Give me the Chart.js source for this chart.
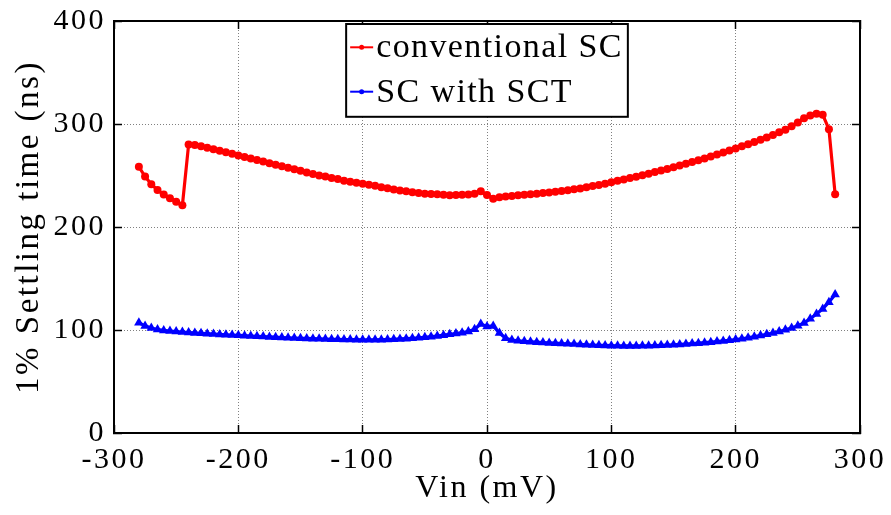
<!DOCTYPE html>
<html>
<head>
<meta charset="utf-8">
<title>1% Settling time vs Vin</title>
<script src="https://cdn.jsdelivr.net/npm/chart.js@4.4.1/dist/chart.umd.min.js"></script>
<style>
  html, body { margin: 0; padding: 0; background: #fff; }
  #wrap { width: 891px; height: 515px; }
</style>
</head>
<body>
<div id="wrap"><canvas id="settle" width="891" height="515"></canvas></div>
<script>
// input voltage sweep (mV)
const vin = [-280,-275,-270,-265,-260,-255,-250,-245,-240,-235,-230,-225,-220,-215,-210,-205,-200,
  -195,-190,-185,-180,-175,-170,-165,-160,-155,-150,-145,-140,-135,-130,-125,-120,-115,-110,-105,-100,
  -95,-90,-85,-80,-75,-70,-65,-60,-55,-50,-45,-40,-35,-30,-25,-20,-15,-10,-5,
  0,5,10,15,20,25,30,35,40,45,50,55,60,65,70,75,80,85,90,95,100,
  105,110,115,120,125,130,135,140,145,150,155,160,165,170,175,180,185,190,195,200,
  205,210,215,220,225,230,235,240,245,250,255,260,265,270,275,280];

// settling time (ns)
const conventionalSC = [258.5,249,241.5,236,231.5,228,224.5,221,
  280,279.5,278.5,277,275.5,274,272.5,271,269.5,
  268,266.5,265,263.5,262,260.5,259,257.5,256,254.5,253,251.5,250,249,247.5,246.5,245,244,243,242,
  241,240,238.5,237.6,236.5,235.5,234.6,233.7,233,232.4,232,231.7,231.2,230.8,231,231.4,231.6,232.4,234.6,
  231,227.5,229,229.5,230.2,230.8,231.4,231.8,232.3,232.9,233.6,234.3,235,235.8,236.6,237.5,238.6,239.7,240.8,242,243.5,
  244.8,246.1,247.5,248.9,250.3,251.8,253.3,254.8,256.4,258,259.6,261.3,263,264.8,266.6,268.4,270.3,272.3,274.3,276.3,
  278.3,280.4,282.6,284.8,287,289.4,291.9,294.5,297.8,301.5,305.5,308.3,310,309,295,231.7];

const scWithSCT = [107,104,102,100.5,99.6,99,98.5,98,
  97.6,97.2,96.8,96.4,96,95.7,95.4,95.1,94.8,
  94.5,94.2,93.9,93.6,93.3,93,92.7,92.5,92.2,92,91.8,91.6,91.4,91.2,91,90.9,90.8,90.7,90.6,90.5,
  90.5,90.5,90.6,90.8,91,91.3,91.6,92,92.4,92.9,93.5,94.2,95,95.9,96.6,97.4,98.5,100.7,105.8,
  103.5,104,97,92,90.3,89.5,89,88.6,88.2,87.8,87.5,87.2,86.9,86.6,86.3,86,85.7,85.4,85.2,85,84.8,
  84.6,84.5,84.5,84.5,84.6,84.7,84.9,85.1,85.4,85.7,86,86.4,86.8,87.2,87.7,88.2,88.8,89.4,90,90.7,
  91.5,92.5,93.5,94.6,95.8,97.1,98.6,100.2,102,104.2,106.8,111,115.5,120.5,127,134.5];

const seriesNames = ['conventional SC', 'SC with SCT'];
const xTicks = [-300, -200, -100, 0, 100, 200, 300];
const yTicks = [0, 100, 200, 300, 400];

const serif = "'Liberation Serif', 'Times New Roman', serif";
const gridGray = '#808080';

const points = ys => vin.map((v, i) => ({ x: v, y: ys[i] }));

// grid lines that sit on the frame are left to the frame itself
const innerGrid = c => (c.index === 0 || c.index === c.scale.ticks.length - 1) ? 'rgba(0,0,0,0)' : gridGray;

// keep the plot box exactly where the layout padding puts it
const noEdgePad = s => { s.paddingTop = 0; s.paddingBottom = 0; s.paddingLeft = 0; s.paddingRight = 0; };

// MATLAB-ish wide serif text
const wideText = {
  id: 'wideText',
  beforeDraw(chart) { chart.ctx.letterSpacing = '2.5px'; }
};

// boxed legend at the top centre of the plot
const boxLegend = {
  id: 'boxLegend',
  afterDatasetsDraw(chart) {
    const { ctx, chartArea } = chart;
    const sets = chart.data.datasets;
    ctx.save();
    ctx.font = '34px ' + serif;
    ctx.letterSpacing = '1.4px';
    const rowH = 44.4, lineLen = 23, padL = 4, gap = 3, padR = 5;
    const textW = Math.max(...sets.map(d => ctx.measureText(d.label).width));
    const w = padL + lineLen + gap + textW + padR;
    const h = rowH * sets.length + 4;
    const x0 = (chartArea.left + chartArea.right) / 2 - w / 2;
    const y0 = chartArea.top + 3;
    ctx.fillStyle = '#fff';
    ctx.fillRect(x0, y0, w, h);
    ctx.lineWidth = 2;
    ctx.strokeStyle = '#000';
    ctx.strokeRect(x0, y0, w, h);
    sets.forEach((d, i) => {
      const cy = y0 + 23.3 + i * rowH;
      ctx.strokeStyle = d.borderColor;
      ctx.lineWidth = 2;
      ctx.beginPath();
      ctx.moveTo(x0 + padL, cy);
      ctx.lineTo(x0 + padL + lineLen, cy);
      ctx.stroke();
      ctx.fillStyle = d.borderColor;
      ctx.beginPath();
      ctx.arc(x0 + padL + lineLen / 2, cy, 2.5, 0, Math.PI * 2);
      ctx.fill();
      ctx.fillStyle = '#000';
      ctx.textAlign = 'left';
      ctx.textBaseline = 'middle';
      ctx.fillText(d.label, x0 + padL + lineLen + gap, cy + 1);
    });
    ctx.restore();
  }
};

new Chart(document.getElementById('settle'), {
  type: 'line',
  data: {
    datasets: [
      {
        label: seriesNames[0],
        data: points(conventionalSC),
        borderColor: '#ff0000',
        backgroundColor: '#ff0000',
        borderWidth: 3.2,
        pointStyle: 'circle',
        pointRadius: 4,
        pointBorderWidth: 0,
        tension: 0
      },
      {
        label: seriesNames[1],
        data: points(scWithSCT),
        borderColor: '#0000ff',
        backgroundColor: '#0000ff',
        borderWidth: 3.2,
        pointStyle: 'triangle',
        pointRadius: 5.5,
        pointBorderWidth: 0,
        tension: 0
      }
    ]
  },
  options: {
    responsive: false,
    animation: false,
    devicePixelRatio: 1,
    layout: { padding: { top: 21, right: 31, bottom: 0, left: 0 } },
    plugins: { legend: { display: false }, tooltip: { enabled: false } },
    scales: {
      x: {
        type: 'linear',
        position: 'bottom',
        min: -300,
        max: 300,
        afterBuildTicks: s => { s.ticks = xTicks.map(v => ({ value: v })); },
        afterFit: s => { s.height = 82; noEdgePad(s); },
        ticks: {
          autoSkip: false,
          maxRotation: 0,
          padding: 17,
          color: '#000',
          font: { family: serif, size: 30 },
          callback: v => String(v)
        },
        grid: {
          color: innerGrid,
          lineWidth: 1,
          tickLength: -8,
          tickColor: '#000',
          tickWidth: 1.5
        },
        border: { display: true, color: '#000', width: 2, dash: [1, 2] },
        title: {
          display: true,
          text: 'Vin (mV)',
          color: '#000',
          font: { family: serif, size: 32 },
          padding: { top: 0, bottom: 7 }
        }
      },
      y: {
        type: 'linear',
        position: 'left',
        min: 0,
        max: 400,
        afterBuildTicks: s => { s.ticks = yTicks.map(v => ({ value: v })); },
        afterFit: s => { s.width = 114; noEdgePad(s); },
        ticks: {
          padding: 16,
          color: '#000',
          font: { family: serif, size: 30 },
          callback: v => String(v)
        },
        grid: {
          color: innerGrid,
          lineWidth: 1,
          tickLength: -8,
          tickColor: '#000',
          tickWidth: 1.5
        },
        border: { display: true, color: '#000', width: 2, dash: [1, 2] },
        title: {
          display: true,
          text: '1% Settling time (ns)',
          color: '#000',
          font: { family: serif, size: 33 },
          padding: { top: 10, bottom: 0 }
        }
      },
      xTop: {
        type: 'linear',
        position: 'top',
        min: -300,
        max: 300,
        afterBuildTicks: s => { s.ticks = xTicks.map(v => ({ value: v })); },
        afterFit: s => { s.height = 0; noEdgePad(s); },
        ticks: { display: false },
        grid: { drawOnChartArea: false, tickLength: -8, tickColor: '#000', tickWidth: 1.5 },
        border: { display: true, color: '#000', width: 2 }
      },
      yRight: {
        type: 'linear',
        position: 'right',
        min: 0,
        max: 400,
        afterBuildTicks: s => { s.ticks = yTicks.map(v => ({ value: v })); },
        afterFit: s => { s.width = 0; noEdgePad(s); },
        ticks: { display: false },
        grid: { drawOnChartArea: false, tickLength: -8, tickColor: '#000', tickWidth: 1.5 },
        border: { display: true, color: '#000', width: 2 }
      }
    }
  },
  plugins: [wideText, boxLegend]
});
</script>
</body>
</html>
